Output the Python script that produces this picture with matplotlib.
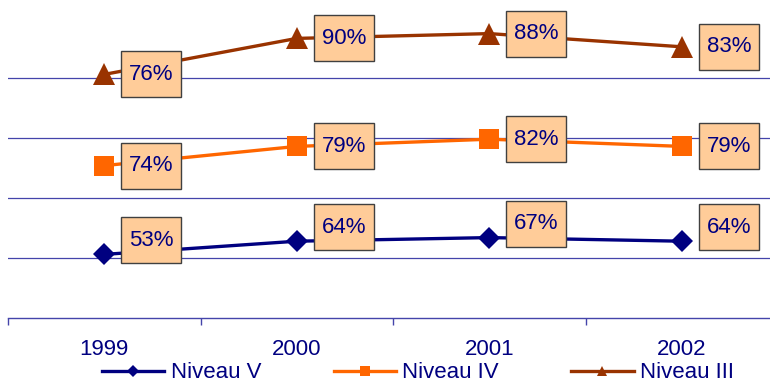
import numpy as np
import matplotlib
matplotlib.use("Agg")
import matplotlib.pyplot as plt
from matplotlib.lines import Line2D
from matplotlib.path import Path

plt.rcParams['font.family'] = ['Liberation Sans', 'DejaVu Sans']

# Taux par niveau de formation
years = ['1999', '2000', '2001', '2002']
niveau_v = [53, 64, 67, 64]
niveau_iv = [74, 79, 82, 79]
niveau_iii = [76, 90, 88, 83]
series_names = ['Niveau V', 'Niveau IV', 'Niveau III']

colors = ['#000080', '#ff6600', '#993300']
markers = ['D', 's', '^']
marker_sizes = [11.5, 14, 16]
legend_marker_sizes = [6, 6.5, 7.5]
label_lift = [14, 0, 0]   # px, the Niveau V labels sit a little above their points
navy = '#000080'
grid_blue = '#4444aa'

# stacked line chart: each series is drawn on top of the ones below it
values = np.array([niveau_v, niveau_iv, niveau_iii])
stacked = np.cumsum(values, axis=0)
x = np.arange(len(years))


def label_box(x0, y0, width, height, mutation_size):
    # rectangle with more room above/below the text than at the sides
    px, py = 0.35 * mutation_size, 0.56 * mutation_size
    x0, y0 = x0 - px, y0 - py
    x1, y1 = x0 + width + 2 * px, y0 + height + 2 * py
    return Path([(x0, y0), (x1, y0), (x1, y1), (x0, y1), (x0, y0)], closed=True)


fig = plt.figure(figsize=(7.7, 3.85), dpi=100)
ax = fig.add_axes([8 / 770, 67 / 385, 770 / 770, 300 / 385])

for i, name in enumerate(series_names):
    ax.plot(x, stacked[i], color=colors[i], lw=2.4, marker=markers[i],
            markersize=marker_sizes[i], markeredgewidth=0, zorder=3,
            label=name)
    for xi, yi, v in zip(x, stacked[i], values[i]):
        ax.annotate(f'{v}%', xy=(xi, yi),
                    xytext=(0.72 * (17 + 7.8), 0.72 * label_lift[i]),
                    textcoords='offset points', ha='left', va='center',
                    fontsize=16, color=navy, zorder=5,
                    bbox=dict(boxstyle=label_box, fc='#ffcc99',
                              ec='#404040', lw=1.0))

ax.set_xlim(-0.5, 3.5)
ax.set_ylim(0, 250)
ax.set_yticks([])
for yv in [50, 100, 150, 200]:
    ax.axhline(yv, color=grid_blue, lw=0.9, zorder=1)

for side in ['top', 'right', 'left']:
    ax.spines[side].set_visible(False)
ax.spines['bottom'].set_color(grid_blue)
ax.spines['bottom'].set_linewidth(1.0)

ax.set_xticks(x)
ax.set_xticklabels(years, fontsize=16, color=navy)
ax.tick_params(axis='x', which='major', length=0, pad=15)
ax.set_xticks(np.arange(-0.5, 4, 1), minor=True)
ax.tick_params(axis='x', which='minor', length=5, width=1.0,
               color=grid_blue, direction='out')

handles = [Line2D([], [], color=colors[i], lw=2.4, marker=markers[i],
                  markersize=legend_marker_sizes[i], markeredgewidth=0)
           for i in range(3)]
fig.legend(handles, series_names, loc='center left',
           bbox_to_anchor=(102 / 770, 1 - 373 / 385), ncol=3,
           frameon=False, fontsize=16, labelcolor=navy,
           borderpad=0, borderaxespad=0, handlelength=2.8,
           handletextpad=0.3, columnspacing=3.25)

fig.savefig('out.png', dpi=100)
